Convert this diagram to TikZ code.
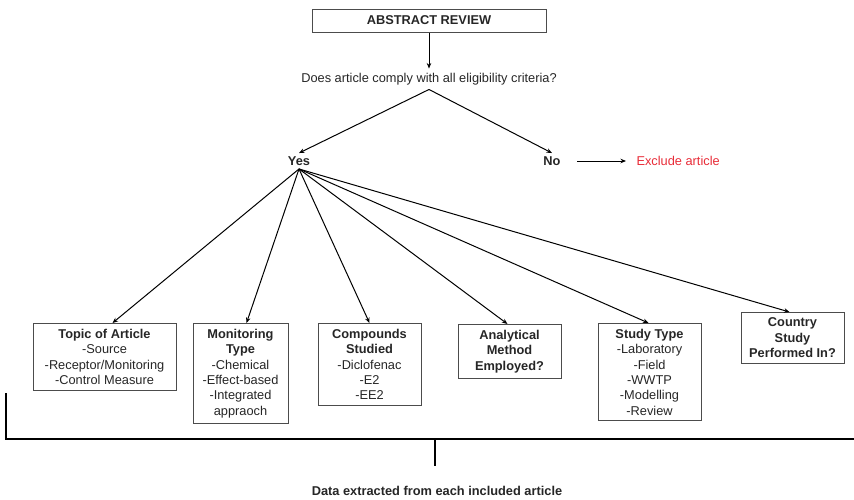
\documentclass[tikz,border=0pt]{standalone}
\usepackage{fontspec}
\setmainfont{Liberation Sans}
\usetikzlibrary{arrows.meta}
\definecolor{exclred}{RGB}{232,44,56}

\begin{document}
\begin{tikzpicture}[x=1pt,y=-1pt,>={Stealth[length=5.5pt,width=4.5pt]},
    font=\fontsize{12.8}{15.4}\selectfont, line width=1pt,
    every node/.style={text=black!85},
    infobox/.style={draw=black!70, align=center, anchor=north, inner xsep=3pt,
      inner ysep=5.5pt, minimum width=103pt},
    bracket/.style={line width=1.6pt}]
  \useasboundingbox (0,0) rectangle (854,499);
  \node[draw=black!70, minimum width=234pt, minimum height=23pt, inner sep=2pt]
    (abstract) at (429,20.5) {\textbf{ABSTRACT REVIEW}};
  \node[inner sep=4pt] (question) at (429,79)
    {Does article comply with all eligibility criteria?};
  \node[inner sep=3pt] (yes) at (299,161) {\textbf{Yes}};
  \node[inner sep=3pt] (no) at (552,161) {\textbf{No}};
  \node[anchor=west, inner xsep=10pt, text=exclred] (exclude) at (626,161)
    {Exclude article};
  \draw[->] (abstract) -- (question);
  \draw[->] (question.south) -- (yes.north);
  \draw[->] (question.south) -- (no.north);
  \draw[->, shorten <=13pt] (no.east) -- (exclude.west);
  % data fields
  \node[infobox, minimum width=143pt] (topic) at (104.5,323)
    {\textbf{Topic of Article}\\-Source\\-Receptor/Monitoring\\-Control Measure};
  \node[infobox, minimum width=95pt] (monitor) at (240.5,323)
    {\textbf{Monitoring}\\\textbf{Type}\\-Chemical\\-Effect-based\\-Integrated\\appraoch};
  \node[infobox] (compound) at (369.5,323)
    {\textbf{Compounds}\\\textbf{Studied}\\-Diclofenac\\-E2\\-EE2};
  \node[infobox] (analytic) at (509.5,324)
    {\textbf{Analytical}\\\textbf{Method}\\\textbf{Employed?}};
  \node[infobox] (studytype) at (649.5,323)
    {\textbf{Study Type}\\-Laboratory\\-Field\\-WWTP\\-Modelling\\-Review};
  \node[infobox] (country) at (792.5,312)
    {\textbf{Country}\\\textbf{Study}\\\textbf{Performed In?}};
  \foreach \b/\s in {topic/8,monitor/6,compound/0,analytic/-2,studytype/-1,country/-3}
    \draw[->] (yes.south) -- ([xshift=\s pt]\b.north);
  \draw[bracket] (6,393) |- (854,439);
  \draw[bracket] (435,439) -- (435,466);
  \node (data) at (437,491) {\textbf{Data extracted from each included article}};
\end{tikzpicture}
\end{document}
